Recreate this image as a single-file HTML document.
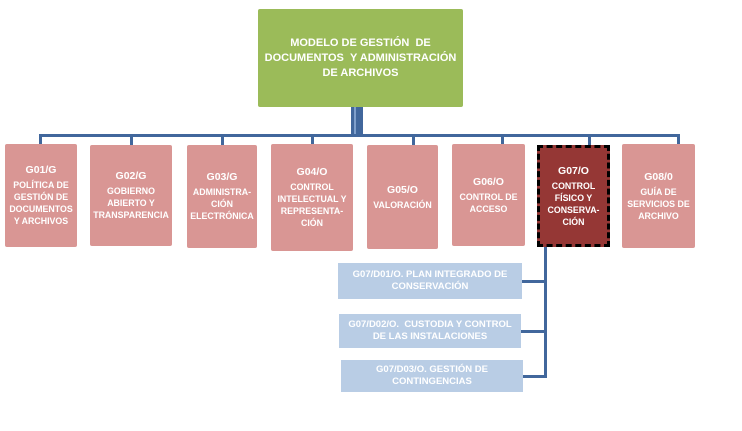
<!DOCTYPE html>
<html><head><meta charset="utf-8"><style>
body{margin:0;width:742px;height:431px;background:#fff;position:relative;overflow:hidden;font-family:"Liberation Sans",sans-serif;}
.b{position:absolute;display:flex;flex-direction:column;justify-content:center;align-items:center;text-align:center;color:#fff;font-weight:bold;box-sizing:border-box;}
.p{background:#D99694;font-size:8.8px;line-height:12px;border-radius:2px;}
.p .t{font-size:10.5px;margin-bottom:3px;}
.l{position:absolute;background:#41679C;}
.s{background:#B9CDE5;font-size:9.5px;line-height:12px;}
</style></head><body>
<div class="b" style="left:258px;top:9px;width:205px;height:98px;background:#9BBB59;font-size:11px;line-height:15px;border-radius:2px;">MODELO DE GESTIÓN &nbsp;DE<br>DOCUMENTOS &nbsp;Y ADMINISTRACIÓN<br>DE ARCHIVOS</div>
<div class="l" style="left:351px;top:107px;width:12px;height:29px;"></div>
<div style="position:absolute;left:354px;top:107px;width:2px;height:29px;background:#7F9FCB"></div>
<div class="l" style="left:39px;top:134px;width:641px;height:3px;"></div>
<div class="l" style="left:39px;top:134px;width:3px;height:11px;"></div>
<div class="l" style="left:130px;top:134px;width:3px;height:11px;"></div>
<div class="l" style="left:221px;top:134px;width:3px;height:11px;"></div>
<div class="l" style="left:311px;top:134px;width:3px;height:11px;"></div>
<div class="l" style="left:412px;top:134px;width:3px;height:11px;"></div>
<div class="l" style="left:501px;top:134px;width:3px;height:11px;"></div>
<div class="l" style="left:588px;top:134px;width:3px;height:11px;"></div>
<div class="l" style="left:677px;top:134px;width:3px;height:11px;"></div>

<div class="b p" style="left:5px;top:144px;width:72px;height:103px;"><div class="t">G01/G</div>POLÍTICA DE<br>GESTIÓN DE<br>DOCUMENTOS<br>Y ARCHIVOS</div>
<div class="b p" style="left:90px;top:145px;width:82px;height:101px;"><div class="t">G02/G</div>GOBIERNO<br>ABIERTO Y<br>TRANSPARENCIA</div>
<div class="b p" style="left:187px;top:145px;width:70px;height:103px;"><div class="t">G03/G</div>ADMINISTRA-<br>CIÓN<br>ELECTRÓNICA</div>
<div class="b p" style="left:271px;top:144px;width:82px;height:107px;"><div class="t">G04/O</div>CONTROL<br>INTELECTUAL Y<br>REPRESENTA-<br>CIÓN</div>
<div class="b p" style="left:367px;top:145px;width:71px;height:104px;"><div class="t">G05/O</div>VALORACIÓN</div>
<div class="b p" style="left:452px;top:144px;width:73px;height:102px;"><div class="t">G06/O</div>CONTROL DE<br>ACCESO</div>
<div class="b p" style="left:537px;top:145px;width:73px;height:102px;background:#953735;border:3px dashed #000;border-radius:0;"><div class="t">G07/O</div>CONTROL<br>FÍSICO Y<br>CONSERVA-<br>CIÓN</div>
<div class="b p" style="left:622px;top:144px;width:73px;height:104px;"><div class="t">G08/0</div>GUÍA DE<br>SERVICIOS DE<br>ARCHIVO</div>

<div class="l" style="left:544px;top:247px;width:3px;height:131px;"></div>
<div class="l" style="left:522px;top:280px;width:25px;height:3px;"></div>
<div class="l" style="left:521px;top:330px;width:26px;height:3px;"></div>
<div class="l" style="left:523px;top:375px;width:24px;height:3px;"></div>

<div class="b s" style="left:338px;top:263px;width:184px;height:36px;">G07/D01/O. PLAN INTEGRADO DE<br>CONSERVACIÓN</div>
<div class="b s" style="left:339px;top:314px;width:182px;height:34px;">G07/D02/O. &nbsp;CUSTODIA Y CONTROL<br>DE LAS INSTALACIONES</div>
<div class="b s" style="left:341px;top:360px;width:182px;height:32px;">G07/D03/O. GESTIÓN DE<br>CONTINGENCIAS</div>
</body></html>
